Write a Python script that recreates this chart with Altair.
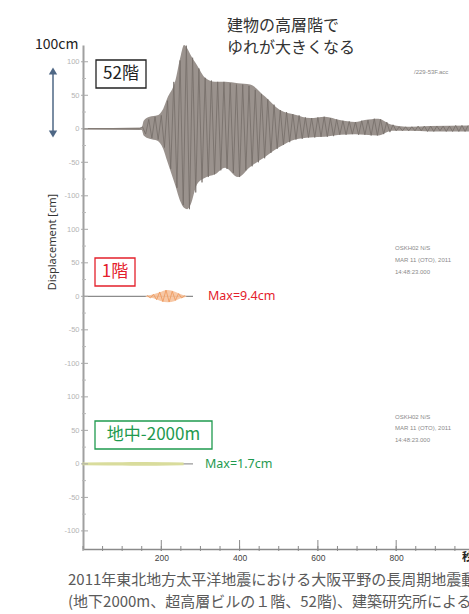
import altair as alt
import pandas as pd

# ---------------- data ----------------
X_TICK_LABELS = [200, 400, 600, 800]           # seconds
Y_TICK_VALUES = list(range(-100, 601, 50))     # stacked axis positions (cm + panel offset)
Y_MINOR_VALUES = list(range(-75, 601, 50))
X_MINOR_VALUES = list(range(0, 986, 50))

OFFSET_52F = 500   # panel baselines on the stacked axis
OFFSET_1F = 250
OFFSET_GL = 0

# 52階: envelope of the record (cm)
F52_ENV_T = [0, 150, 155, 170, 190, 205, 215, 235, 250, 258, 266, 275, 291, 312, 337, 363,
             396, 427, 465, 503, 542, 580, 618, 656, 695, 720, 754, 789, 835, 886, 986]
F52_ENV_TOP = [1, 2, 12, 18, 20, 30, 45, 70, 110, 125, 120, 110, 95, 76, 70, 70,
               68, 66, 48, 28, 21, 16, 18, 13, 10, 13, 15, 6, 3, 4, 5]
F52_ENV_BOT = [-1, -2, -10, -15, -18, -30, -48, -83, -110, -118, -120, -113, -83, -73, -68, -58,
               -72, -57, -42, -27, -16, -13, -12, -9, -8, -9, -10, -3, -3, -4, -4]

# 52階: successive peaks of the waveform (cm), one every 8 s from t = 152 s
F52_PEAK_START, F52_PEAK_STEP = 152, 8
F52_PEAKS = [3, -8, 14, -14, 18, -16, 20, -28, 42, -60,
             70, -88, 102, -114, 124, -120, 106, -95, 90, -80,
             76, -72, 72, -68, 70, -62, 70, -60, 68, -66,
             66, -72, 66, -62, 64, -56, 58, -50, 52, -44,
             44, -36, 36, -30, 28, -24, 25, -20, 22, -16,
             20, -15, 17, -13, 16, -13, 17, -12, 18, -12,
             16, -11, 14, -9, 12, -9, 11, -8, 10, -9,
             12, -9, 13, -10, 15, -10, 14, -8, 10, -5,
             6, -3, 3, -3, 3, -3, 3, -3, 4, -3,
             4, -4, 4, -4, 4, -3, 4, -4, 4, -4,
             5, -4, 5, -4, 5]
F52_LEAD_T = [0, 144]
F52_LEAD_V = [0, 0]

# 1階: record (cm)
F1_BASE_T = [0, 281]
F1_BASE_V = [0, 0]
F1_ENV_T = [160, 180, 200, 216, 235, 250, 264]
F1_ENV_TOP = [0.5, 3, 7, 9.4, 7, 3, 0.5]
F1_ENV_BOT = [-0.5, -3, -7.5, -9, -7, -3, -0.5]
F1_PEAK_T = [164, 172, 180, 188, 196, 204, 212, 220, 228, 236, 244, 252, 260]
F1_PEAKS = [1.5, -2.5, 3, -5, 6.5, -8, 9.4, -8.5, 7.5, -6, 4, -2.5, 1]

# 地中-2000m: record envelope (cm)
GL_ENV_T = [0, 100, 160, 220, 255]
GL_ENV_TOP = [1.0, 1.3, 1.7, 1.3, 0.8]
GL_ENV_BOT = [-1.0, -1.3, -1.7, -1.3, -0.8]

# ---------------- layout ----------------
PL, PT, PR, PB = 83, 45, 0, 65
W, H = 469 - PL - PR, 614 - PT - PB

xs = alt.Scale(domain=[0, 986], nice=False, zero=False)
ys = alt.Scale(domain=[-127, 625], nice=False, zero=False)

SANS = "Liberation Sans"
x_axis = alt.Axis(values=X_TICK_LABELS, ticks=False, grid=False, domainColor="#8a8a8a",
                  domainWidth=1.5, labelColor="#444444", labelFontSize=8.5,
                  labelFont=SANS, labelPadding=4, title="")
y_axis = alt.Axis(values=Y_TICK_VALUES, ticks=False, grid=False, domainColor="#a0a0a0",
                  domainWidth=2, labelColor="#b4b4b4", labelFontSize=7.5,
                  labelFont=SANS, labelPadding=4, title="",
                  labelExpr="datum.value >= 375 ? datum.value - 500 : (datum.value >= 125 ? datum.value - 250 : datum.value)")


def X(f):
    return alt.X(f, type="quantitative", scale=xs, axis=x_axis, title="")


def Y(f):
    return alt.Y(f, type="quantitative", scale=ys, axis=y_axis, title="")


DUMMY = pd.DataFrame({"a": [0]})
JP = "Noto Sans CJK JP"


def txt(s, px, py, **kw):
    return alt.Chart(DUMMY).mark_text(text=s, **kw).encode(
        x=alt.value(px - PL), y=alt.value(py - PT))


def box(x1, y1, x2, y2, color):
    return alt.Chart(DUMMY).mark_rect(fill="white", stroke=color, strokeWidth=1.3).encode(
        x=alt.value(x1 - PL), x2=alt.value(x2 - PL), y=alt.value(y1 - PT), y2=alt.value(y2 - PT))


def small(s, px, py):
    return txt(s, px, py, font=SANS, fontSize=6, color="#8a8a8a", align="left", baseline="middle")


# ---------------- data frames ----------------
env52 = pd.DataFrame({"t": F52_ENV_T, "top": F52_ENV_TOP, "bot": F52_ENV_BOT})
wave52 = pd.DataFrame({
    "t": F52_LEAD_T + [F52_PEAK_START + F52_PEAK_STEP * i for i in range(len(F52_PEAKS))],
    "v": F52_LEAD_V + F52_PEAKS})
base1 = pd.DataFrame({"t": F1_BASE_T, "v": F1_BASE_V})
env1 = pd.DataFrame({"t": F1_ENV_T, "top": F1_ENV_TOP, "bot": F1_ENV_BOT})
wave1 = pd.DataFrame({"t": F1_PEAK_T, "v": F1_PEAKS})
envgl = pd.DataFrame({"t": GL_ENV_T, "top": GL_ENV_TOP, "bot": GL_ENV_BOT})
ytick_major = pd.DataFrame({"v": Y_TICK_VALUES})
ytick_minor = pd.DataFrame({"v": Y_MINOR_VALUES})
xtick = pd.DataFrame({"v": X_MINOR_VALUES})
xtick_major = pd.DataFrame({"v": X_TICK_LABELS})


def band(df, offset, color, opacity=1.0, stroke_width=0):
    kw = {}
    if stroke_width:
        kw = {"stroke": color, "strokeWidth": stroke_width}
    return alt.Chart(df).transform_calculate(
        hi=f"datum.top + {offset}", lo=f"datum.bot + {offset}"
    ).mark_area(color=color, opacity=opacity, interpolate="monotone", **kw).encode(
        x=X("t"), y=Y("hi"), y2="lo:Q")


def trace(df, offset, color, width, opacity=1.0):
    return alt.Chart(df).transform_calculate(y=f"datum.v + {offset}").mark_line(
        color=color, strokeWidth=width, opacity=opacity).encode(x=X("t"), y=Y("y"))


layers = []

# 52階 trace
layers.append(band(env52, OFFSET_52F, "#9a928d"))
layers.append(trace(wave52, OFFSET_52F, "#756d68", 0.8))

# 1階 trace
layers.append(trace(base1, OFFSET_1F, "#8c8c8c", 1.3))
layers.append(band(env1, OFFSET_1F, "#f6c29c", 0.9))
layers.append(trace(wave1, OFFSET_1F, "#ee9a5e", 1.0, 0.85))

# 地中 trace
layers.append(trace(base1, OFFSET_GL, "#9a9a9a", 1.2))
layers.append(band(envgl, OFFSET_GL, "#d9dc9c", 1.0, 1.6))

# ticks
layers.append(alt.Chart(ytick_major).mark_rule(color="#a8a8a8", strokeWidth=1).encode(
    y=Y("v"), x=alt.value(-2), x2=alt.value(5)))
layers.append(alt.Chart(ytick_minor).mark_rule(color="#b8b8b8", strokeWidth=1).encode(
    y=Y("v"), x=alt.value(-1), x2=alt.value(3)))
layers.append(alt.Chart(xtick).mark_rule(color="#8a8a8a", strokeWidth=1).encode(
    x=X("v"), y=alt.value(H - 3), y2=alt.value(H + 2)))
layers.append(alt.Chart(xtick_major).mark_rule(color="#8a8a8a", strokeWidth=1).encode(
    x=X("v"), y=alt.value(H - 9), y2=alt.value(H + 2)))

# annotation texts
layers += [
    txt("100cm", 35, 45, font=JP, fontSize=14, color="#222222", align="left", baseline="middle"),
    txt("建物の高層階で", 227, 26, font=JP, fontSize=16, color="#333333", align="left", baseline="middle"),
    txt("ゆれが大きくなる", 227, 48, font=JP, fontSize=16, color="#333333", align="left", baseline="middle"),
    small("/229-53F.acc", 414, 72),
    txt("Displacement [cm]", 53, 242, font="Noto Sans", fontSize=11, color="#333333", angle=270,
        align="center", baseline="middle"),
    box(96, 60, 146, 88, "#222222"),
    txt("52階", 121, 74, font=JP, fontSize=17, color="#222222", align="center", baseline="middle"),
    box(95, 258, 135, 286, "#e4202b"),
    txt("1階", 115, 272, font=JP, fontSize=17, color="#e4202b", align="center", baseline="middle"),
    txt("Max=9.4cm", 208, 296, font="Noto Sans", fontSize=12.5, color="#e4202b", align="left", baseline="middle"),
    box(95, 421, 212, 449, "#1f9a4f"),
    txt("地中-2000m", 153.5, 435, font=JP, fontSize=17, color="#1f9a4f", align="center", baseline="middle"),
    txt("Max=1.7cm", 205, 464, font="Noto Sans", fontSize=12.5, color="#1f9a4f", align="left", baseline="middle"),
    small("OSKH02    N/S", 395, 248),
    small("MAR 11 (OTO), 2011", 395, 260),
    small("14:48:23.000", 395, 272),
    small("OSKH02    N/S", 395, 417),
    small("MAR 11 (OTO), 2011", 395, 428),
    small("14:48:23.000", 395, 440),
    txt("秒", 462, 558, font=JP, fontSize=11, fontWeight="bold", color="#222222", align="left", baseline="middle"),
    txt("2011年東北地方太平洋地震における大阪平野の長周期地震動", 68, 580, font=JP, fontSize=15,
        color="#5a5a5a", align="left", baseline="middle"),
    txt("(地下2000m、超高層ビルの１階、52階)、建築研究所による", 68, 602, font=JP, fontSize=15,
        color="#5a5a5a", align="left", baseline="middle"),
]

# double arrow for the 100 cm scale
ARROW = "#4e6785"
layers.append(alt.Chart(DUMMY).mark_rule(color=ARROW, strokeWidth=1.5).encode(
    x=alt.value(53 - PL), y=alt.value(72 - PT), y2=alt.value(133 - PT)))
layers.append(alt.Chart(DUMMY).mark_point(shape="triangle-up", filled=True, size=70, color=ARROW, opacity=1).encode(
    x=alt.value(53 - PL), y=alt.value(71 - PT)))
layers.append(alt.Chart(DUMMY).mark_point(shape="triangle-down", filled=True, size=70, color=ARROW, opacity=1).encode(
    x=alt.value(53 - PL), y=alt.value(134 - PT)))

chart = alt.layer(*layers).properties(
    width=W, height=H,
    padding={"left": PL, "top": PT, "right": PR, "bottom": PB},
    autosize=alt.AutoSizeParams(type="none"),
    background="white",
).configure_view(stroke=None)

chart.save("out.html", embed_options={"renderer": "svg", "actions": False})
